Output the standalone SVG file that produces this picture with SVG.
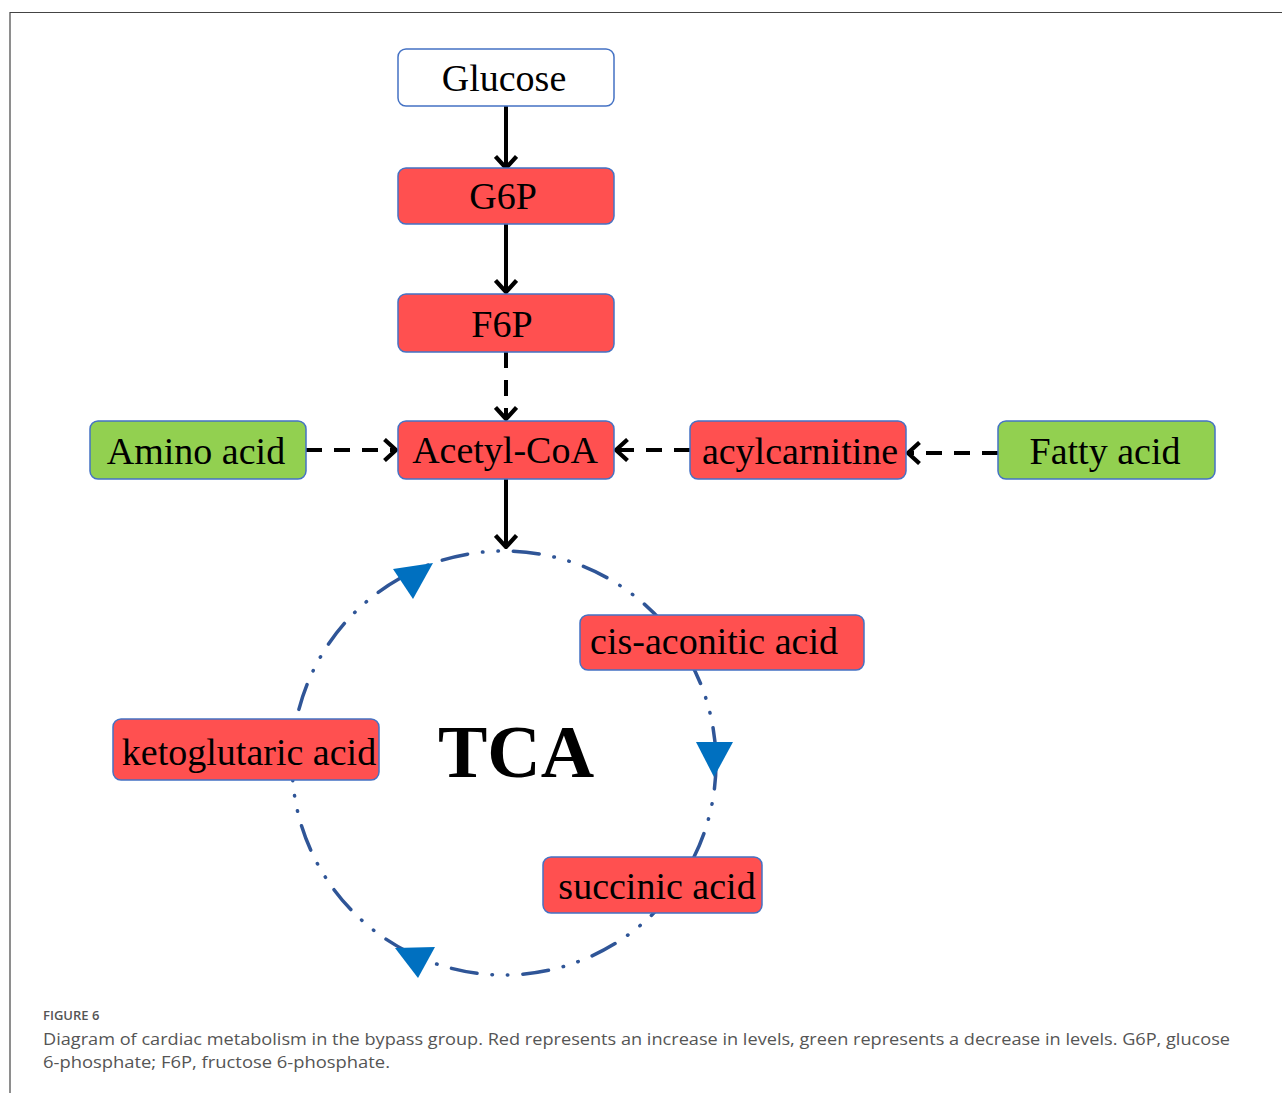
<svg xmlns="http://www.w3.org/2000/svg" width="1282" height="1093" viewBox="0 0 1282 1093">
<style>
.box{stroke:#4472C4;stroke-width:1.5}
.red{fill:#FF5050}
.green{fill:#92D050}
.white{fill:#FFFFFF}
.lbl{font-family:"Liberation Serif","Times New Roman",serif;font-size:38px;fill:#000;text-anchor:middle}
.arr{stroke:#000;stroke-width:4;fill:none}
.dash{stroke-dasharray:16 12}
.cap{font-family:"Open Sans","Liberation Sans",sans-serif;fill:#555}
</style>
<defs>
<marker id="ah" viewBox="0 0 15 24" markerWidth="15" markerHeight="24" refX="13" refY="12" orient="auto" markerUnits="userSpaceOnUse">
<path d="M1.5,1.5 L13,12 L1.5,22.5" fill="none" stroke="#000" stroke-width="4.2"/>
</marker>
</defs>
<rect x="0" y="0" width="1282" height="1093" fill="#fff"/>
<path d="M10,1093 V12.5 H1282" fill="none" stroke="#444" stroke-width="1.2"/>

<g id="tca-cycle">
<circle cx="504" cy="763" r="212" fill="none" stroke="#2F5597" stroke-width="3.5" stroke-linecap="round" stroke-dasharray="26 15 0.5 15 0.5 15"/>
<polygon points="393,569 433,563 413,599" fill="#0070C0"/>
<polygon points="696,742 733,742 714,777" fill="#0070C0"/>
<polygon points="395,948 435,947 418,978" fill="#0070C0"/>
</g>

<g id="connectors">
<line class="arr" x1="506" y1="106" x2="506" y2="168" marker-end="url(#ah)"/>
<line class="arr" x1="506" y1="224" x2="506" y2="292" marker-end="url(#ah)"/>
<line class="arr dash" x1="506" y1="352" x2="506" y2="419" marker-end="url(#ah)"/>
<line class="arr dash" x1="306" y1="450" x2="396" y2="450" marker-end="url(#ah)"/>
<line class="arr dash" x1="690" y1="450" x2="616" y2="450" marker-end="url(#ah)"/>
<line class="arr dash" x1="998" y1="453" x2="908" y2="453" marker-end="url(#ah)"/>
<line class="arr" x1="506" y1="479" x2="506" y2="547" marker-end="url(#ah)"/>
</g>

<g id="glucose"><rect class="box white" x="398" y="49" width="216" height="57" rx="8"/><text class="lbl" x="504" y="91">Glucose</text></g>
<g id="g6p"><rect class="box red" x="398" y="168" width="216" height="56" rx="8"/><text class="lbl" x="503" y="209">G6P</text></g>
<g id="f6p"><rect class="box red" x="398" y="294" width="216" height="58" rx="8"/><text class="lbl" x="502" y="337">F6P</text></g>
<g id="acetyl-coa"><rect class="box red" x="398" y="421" width="216" height="58" rx="8"/><text class="lbl" x="505" y="463">Acetyl-CoA</text></g>
<g id="amino-acid"><rect class="box green" x="90" y="421" width="216" height="58" rx="8"/><text class="lbl" x="196" y="464">Amino acid</text></g>
<g id="acylcarnitine"><rect class="box red" x="690" y="421" width="216" height="58" rx="8"/><text class="lbl" x="800" y="464">acylcarnitine</text></g>
<g id="fatty-acid"><rect class="box green" x="998" y="421" width="217" height="58" rx="8"/><text class="lbl" x="1105" y="464">Fatty acid</text></g>
<g id="cis-aconitic-acid"><rect class="box red" x="580" y="615" width="284" height="55" rx="8"/><text class="lbl" x="714" y="654">cis-aconitic acid</text></g>
<g id="ketoglutaric-acid"><rect class="box red" x="113" y="719" width="266" height="61" rx="8"/><text class="lbl" x="249" y="765">ketoglutaric acid</text></g>
<g id="succinic-acid"><rect class="box red" x="543" y="857" width="219" height="56" rx="8"/><text class="lbl" x="657" y="899">succinic acid</text></g>
<g id="tca-label"><text x="516" y="777" font-family="Liberation Serif,Times New Roman,serif" font-size="74" font-weight="bold" text-anchor="middle" fill="#000">TCA</text></g>

<g id="caption">
<text class="cap" x="43" y="1020" font-size="13" font-weight="600">FIGURE 6</text>
<text class="cap" x="43" y="1045" font-size="17" textLength="1187" lengthAdjust="spacingAndGlyphs">Diagram of cardiac metabolism in the bypass group. Red represents an increase in levels, green represents a decrease in levels. G6P, glucose</text>
<text class="cap" x="43" y="1068" font-size="17" textLength="347" lengthAdjust="spacingAndGlyphs">6-phosphate; F6P, fructose 6-phosphate.</text>
</g>
</svg>
